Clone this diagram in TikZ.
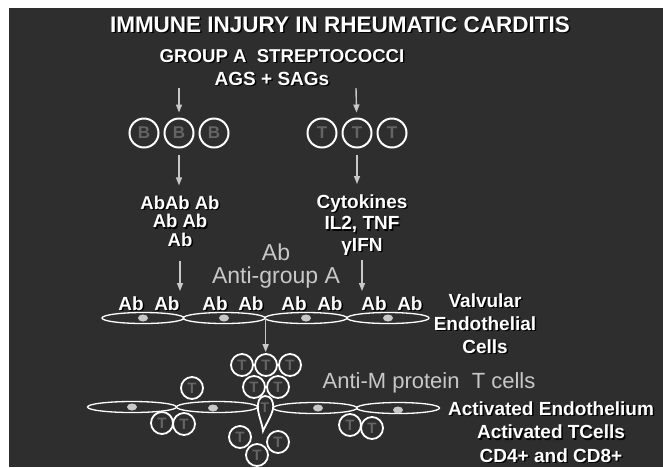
\documentclass[tikz,border=0pt]{standalone}
\usepackage{fontspec}
\setmainfont{Liberation Sans}
\usetikzlibrary{arrows.meta, positioning, shapes.geometric}
\definecolor{slide}{HTML}{2E2E2E}
\definecolor{pale}{HTML}{C8C8C8}
\definecolor{cellgray}{HTML}{646464}
% white lettering with a dark drop shadow
\newcommand{\shadowed}[1]{\leavevmode\rlap{\kern1.5pt\raisebox{-1.5pt}{\color{black}#1}}#1}

\begin{document}
\begin{tikzpicture}[
  x=1pt, y=-1pt,
  node distance=4pt,
  head/.style={text=white, font=\bfseries\fontsize{19}{21}\selectfont,
               align=center, inner sep=0pt, anchor=base},
  soft/.style={text=pale, font=\fontsize{23}{23}\selectfont,
               align=center, inner sep=0pt, anchor=base},
  bcell/.style={circle, draw=white, line width=2pt, minimum size=29pt,
                inner sep=0pt, text=cellgray,
                font=\bfseries\fontsize{17}{17}\selectfont},
  tcell/.style={bcell, line width=1.8pt, minimum size=22pt,
                font=\bfseries\fontsize{15}{15}\selectfont},
  endo/.style={ellipse, draw=white, line width=1.3pt,
               minimum height=11pt, inner sep=0pt},
  arrow/.style={-{Triangle[length=8pt, width=6pt]}, line width=1.4pt, draw=pale}
]
\useasboundingbox (0,0) rectangle (663,467);
\fill[white] (0,0) rectangle (663,467);
\fill[slide] (9,8) rectangle (663,467);

% headings
\node[head, font=\bfseries\fontsize{22.5}{24}\selectfont] (title) at (340,32)
  {\shadowed{IMMUNE INJURY IN RHEUMATIC CARDITIS}};
\node[head, font=\bfseries\fontsize{18.6}{20}\selectfont] (strep) at (282,62)
  {\shadowed{GROUP A\ \ STREPTOCOCCI}};
\node[head] (ags) at (272,85) {\shadowed{AGS + SAGs}};

% B and T cells
\node[bcell] (b1) at (144,133) {B};
\node[bcell, right=of b1] (b2) {B};
\node[bcell, right=of b2] (b3) {B};
\node[bcell] (t1) at (322,133) {T};
\node[bcell, right=of t1] (t2) {T};
\node[bcell, right=of t2] (t3) {T};

\coordinate (srcL) at (179,88);
\coordinate (srcR) at (356,88);
\draw[arrow, shorten >=5pt] (srcL) -- (b2);
\draw[arrow, shorten >=5pt] (srcR) -- (t2);

% products (base anchor sits on the last line)
\node[head, font=\bfseries\fontsize{18.5}{18.5}\selectfont] (abL) at (180,246)
  {\shadowed{AbAb Ab}\\\shadowed{Ab Ab}\\\shadowed{Ab}};
\node[head, font=\bfseries\fontsize{19}{21.5}\selectfont] (cyt) at (362,251)
  {\shadowed{Cytokines}\\\shadowed{IL2, TNF}\\\shadowed{γIFN}};
\draw[arrow, shorten <=6pt, shorten >=10pt] (b2) -- (b2 |- abL.north);
\draw[arrow, shorten <=6pt, shorten >=10pt] (t2) -- (t2 |- cyt.north);

\node[soft] (antiA) at (276,283) {Ab\\Anti-group A};

% valvular endothelium
\node[endo, minimum width=82pt] (v1) at (143,318) {};
\node[endo, minimum width=82pt] (v2) at (224,318) {};
\node[endo, minimum width=82pt] (v3) at (306,318) {};
\node[endo, minimum width=82pt] (v4) at (388,318) {};
\fill[pale] (v1) ellipse [x radius=5, y radius=3.5];
\fill[pale] (v2) ellipse [x radius=5, y radius=3.5];
\fill[pale] (v3) ellipse [x radius=5, y radius=3.5];
\fill[pale] (v4) ellipse [x radius=5, y radius=3.5];

\node[head] (ab1) at (149,310) {\shadowed{Ab\ \ Ab}};
\node[head] (ab2) at (233,310) {\shadowed{Ab\ \ Ab}};
\node[head] (ab3) at (312,310) {\shadowed{Ab\ \ Ab}};
\node[head] (ab4) at (392,310) {\shadowed{Ab\ \ Ab}};
\node[head, font=\bfseries\fontsize{19}{23}\selectfont] (valv) at (485,353)
  {\shadowed{Valvular}\\\shadowed{Endothelial}\\\shadowed{Cells}};

\draw[arrow, shorten <=13pt, shorten >=5pt] (abL.south) -- (abL.south |- ab1.north);
\draw[arrow, shorten <=3pt, shorten >=5pt] (cyt.south) -- (cyt.south |- ab4.north);

% infiltrating T cells
\node[tcell] (s1) at (242,365) {T};
\node[tcell] (s2) at (266,365) {T};
\node[tcell] (s3) at (290,365) {T};
\node[tcell] (s4) at (254,387) {T};
\node[tcell] (s5) at (278,387) {T};
\node[tcell] (s6) at (192,388) {T};
\draw[arrow, shorten >=1pt] (v2.east) -- (v2.east |- s2.north);

% activated endothelium
\node[endo, minimum width=89pt] (e1) at (132,407) {};
\node[endo, minimum width=81pt] (e2) at (217,407) {};
\node[endo, minimum width=84pt] (e3) at (315,408) {};
\node[endo, minimum width=83pt] (e4) at (398,408) {};
\fill[pale] (132,407) ellipse [x radius=5, y radius=3.5];
\fill[pale] (213,408) ellipse [x radius=5, y radius=3.5];
\fill[pale] (318,408) ellipse [x radius=5, y radius=3.5];
\fill[pale] (398,410) ellipse [x radius=5, y radius=3.5];

% T cell squeezing through
\draw[white, line width=1.8pt, fill=slide]
  (265,396) .. controls (259,396) and (257,403) .. (258,410)
  .. controls (259,417) and (262,423) .. (263,431)
  .. controls (266,424) and (271,417) .. (273,409)
  .. controls (274,401) and (271,396) .. (265,396) -- cycle;
\node[text=cellgray, font=\bfseries\fontsize{14}{14}\selectfont, inner sep=0pt]
  (td) at (265,408) {T};

\node[tcell] (s7) at (162,423) {T};
\node[tcell] (s8) at (184,424) {T};
\node[tcell] (s9) at (350,425) {T};
\node[tcell] (s10) at (372,428) {T};
\node[tcell] (s11) at (240,437) {T};
\node[tcell] (s12) at (278,442) {T};
\node[tcell] (s13) at (257,455) {T};

\node[soft, font=\fontsize{22}{22}\selectfont] (antiM) at (429,388)
  {Anti-M protein\ \ T cells};
\node[head, font=\bfseries\fontsize{19}{23.5}\selectfont] (act) at (551,462)
  {\shadowed{Activated Endothelium}\\\shadowed{Activated TCells}\\\shadowed{CD4+ and CD8+}};

\end{tikzpicture}
\end{document}
